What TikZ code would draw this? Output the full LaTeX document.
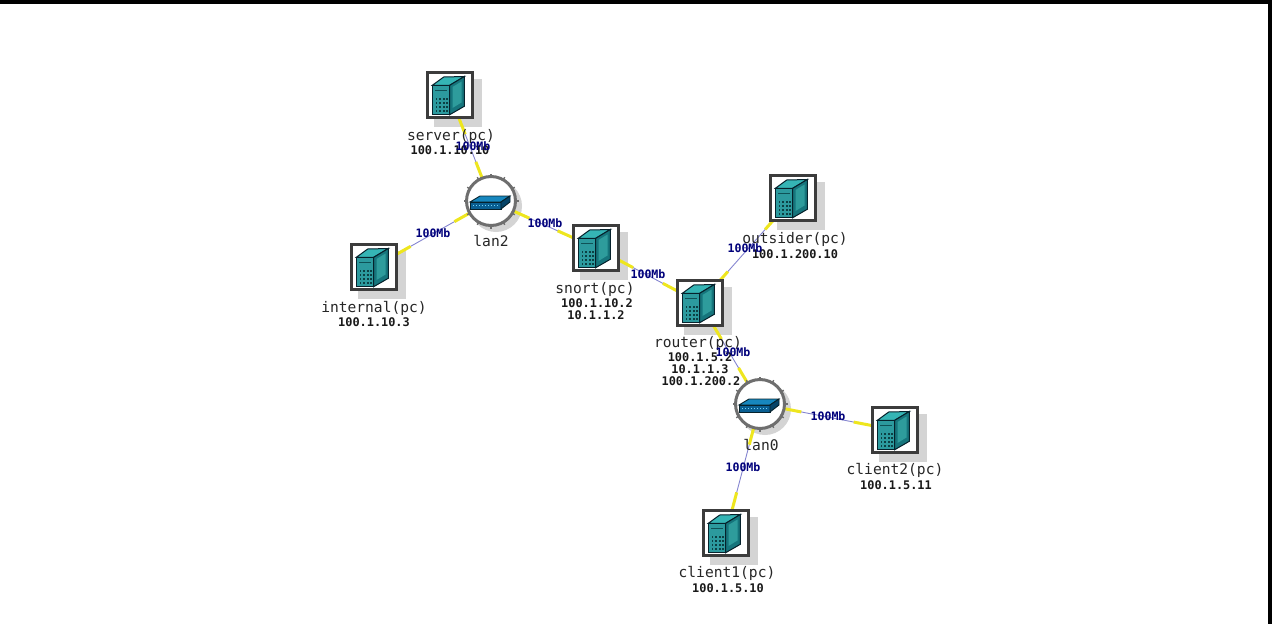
\documentclass[tikz,border=0pt]{standalone}
\usepackage{fontspec}
\newfontfamily\netmono{DejaVu Sans Mono}
\usetikzlibrary{calc}
\pgfdeclarelayer{shadowlayer}
\pgfdeclarelayer{linklayer}
\pgfsetlayers{shadowlayer,linklayer,main}
\definecolor{tealfront}{HTML}{2C9A9E}
\definecolor{tealside}{HTML}{16757C}
\definecolor{tealtop}{HTML}{35B5B5}
\definecolor{tealpanel}{HTML}{2E9C9C}
\definecolor{outl}{HTML}{06222C}
\definecolor{boxc}{HTML}{3C3C3C}
\definecolor{ringc}{HTML}{6E6E6E}
\definecolor{shadowc}{HTML}{D4D4D4}
\definecolor{linky}{HTML}{EEE61E}
\definecolor{linkb}{HTML}{8484D0}
\definecolor{navyt}{HTML}{00007A}
\definecolor{hubtop}{HTML}{1787BE}
\definecolor{hubfront}{HTML}{0A5F92}
\definecolor{hubside}{HTML}{064468}
\tikzset{
  x=1pt,y=-1pt,
  pcbox/.style={draw=boxc,line width=3pt,fill=white,minimum size=45pt,inner sep=0pt,outer sep=0pt,shape=rectangle},
  hubcirc/.style={draw=ringc,line width=3pt,fill=white,circle,minimum size=49pt,inner sep=0pt,outer sep=0pt},
  namelabel/.style={anchor=base,inner sep=0pt,font=\netmono\fontsize{14.6}{15}\selectfont,text=black!85},
  iplabel/.style={anchor=base,inner sep=0pt,font=\netmono\bfseries\fontsize{11.9}{12}\selectfont,text=black!90},
  speedlabel/.style={anchor=base,inner sep=0pt,font=\netmono\bfseries\fontsize{11.6}{12}\selectfont,text=navyt},
  bluelink/.style={draw=linkb,line width=0.9pt},
  yellowlink/.style={draw=linky,line width=3pt},
  pics/tower/.style={code={
    \draw[outl,line width=1pt,fill=tealtop] (-17.7,-9.7) -- (-6.3,-18) -- (14.3,-18.5) -- (-0.3,-9.7) -- cycle;
    \draw[outl,line width=1pt,fill=tealfront] (-17.7,-9.7) rectangle (-0.3,19.7);
    \draw[outl,line width=1pt,fill=tealside] (-0.3,-9.7) -- (14.3,-18.5) -- (14.3,11.3) -- (-0.3,19.7) -- cycle;
    \fill[tealpanel] (2.5,-8) -- (11.5,-13.5) -- (11.5,7.5) -- (2.5,13) -- cycle;
    \fill[tealside!70!black] (-15.5,-5.5) rectangle (-3.5,-4);
    \foreach \px in {-14.5,-10.8,-7.1,-3.8}{
      \foreach \py in {3,7,11,15}{
        \fill[tealside!55!black] (\px,\py) rectangle ++(1.7,1.7);
      }
    }
  }},
  pics/hubicon/.style={code={
    \draw[outl,line width=0.9pt,fill=hubtop] (-21,1) -- (-11,-5) -- (19,-5) -- (10,1) -- cycle;
    \draw[outl,line width=0.9pt,fill=hubfront] (-21,1) rectangle (10,8);
    \draw[outl,line width=0.9pt,fill=hubside] (10,1) -- (19,-5) -- (19,1) -- (10,8) -- cycle;
    \foreach \px in {-18,-15,...,8}{\fill[cyan!55] (\px,3.6) rectangle ++(1,1.5);}
  }},
}
\newcommand{\pcnode}[3]{%
  \node[pcbox] (#1) at (#2,#3) {};
  \pic at (#1.center) {tower};
  \begin{pgfonlayer}{shadowlayer}
    \fill[shadowc] (#2-16,#3-16) rectangle (#2+32,#3+32);
  \end{pgfonlayer}}
\newcommand{\hubnode}[3]{%
  \node[hubcirc] (#1) at (#2,#3) {};
  \foreach \ang in {0,30,...,330}{\draw[ringc,line width=1.4pt] ($(#1.center)+(\ang:24)$) -- ($(#1.center)+(\ang:27.5)$);}
  \pic at (#1.center) {hubicon};
  \begin{pgfonlayer}{shadowlayer}
    \fill[shadowc] (#2+5,#3+5) circle[radius=26];
  \end{pgfonlayer}}
\newcommand{\netlink}[2]{%
  \begin{pgfonlayer}{linklayer}
    \draw[bluelink] (#1.center) -- (#2.center);
    \draw[yellowlink] (#1.center) -- ($(#1.center)!42pt!(#2.center)$);
    \draw[yellowlink] (#2.center) -- ($(#2.center)!42pt!(#1.center)$);
  \end{pgfonlayer}}
\begin{document}
\begin{tikzpicture}
\useasboundingbox (0,0) rectangle (1277,624);
\fill[black] (0,0) rectangle (1272,4);
\fill[black] (1268,0) rectangle (1272,624);

\pcnode{server}{450}{95}
\pcnode{internal}{374}{267}
\pcnode{snort}{596}{248}
\pcnode{outsider}{793}{198}
\pcnode{router}{700}{303}
\pcnode{clienttwo}{895}{430}
\pcnode{clientone}{726}{533}
\hubnode{lantwo}{491}{201}
\hubnode{lanzero}{760}{404}

\netlink{server}{lantwo}
\netlink{internal}{lantwo}
\netlink{snort}{lantwo}
\netlink{snort}{router}
\netlink{outsider}{router}
\netlink{router}{lanzero}
\netlink{clienttwo}{lanzero}
\netlink{clientone}{lanzero}

\node[namelabel] (n1) at (451,140) {server(pc)};
\node[iplabel] (i1) at (450,154) {100.1.10.10};
\node[namelabel] (n2) at (374,312) {internal(pc)};
\node[iplabel] (i2) at (374,326) {100.1.10.3};
\node[namelabel] (n3) at (595,293) {snort(pc)};
\node[iplabel] (i3a) at (597,307) {100.1.10.2};
\node[iplabel] (i3b) at (596,319) {10.1.1.2};
\node[namelabel] (n4) at (795,243) {outsider(pc)};
\node[iplabel] (i4) at (795,258) {100.1.200.10};
\node[namelabel] (n5) at (698,347) {router(pc)};
\node[iplabel] (i5a) at (700,361) {100.1.5.2};
\node[iplabel] (i5b) at (700,373) {10.1.1.3};
\node[iplabel] (i5c) at (701,385) {100.1.200.2};
\node[namelabel] (n6) at (895,474) {client2(pc)};
\node[iplabel] (i6) at (896,489) {100.1.5.11};
\node[namelabel] (n7) at (727,577) {client1(pc)};
\node[iplabel] (i7) at (728,592) {100.1.5.10};
\node[namelabel] (l2) at (491,246) {lan2};
\node[namelabel] (l0) at (761,450) {lan0};

\node[speedlabel] (s1) at (473,150) {100Mb};
\node[speedlabel] (s2) at (433,237) {100Mb};
\node[speedlabel] (s3) at (545,227) {100Mb};
\node[speedlabel] (s4) at (648,278) {100Mb};
\node[speedlabel] (s5) at (745,252) {100Mb};
\node[speedlabel] (s6) at (733,356) {100Mb};
\node[speedlabel] (s7) at (828,420) {100Mb};
\node[speedlabel] (s8) at (743,471) {100Mb};
\end{tikzpicture}
\end{document}
